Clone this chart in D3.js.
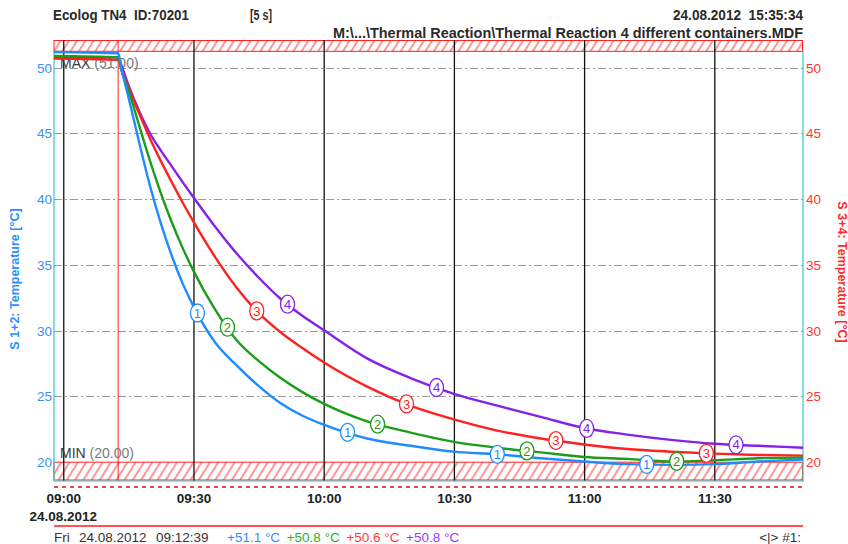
<!DOCTYPE html>
<html><head><meta charset="utf-8">
<script src="https://cdn.jsdelivr.net/npm/d3@7"></script>
<style>
body{margin:0;background:#fff}
svg{display:block}
text{font-family:"Liberation Sans",Arial,sans-serif}
</style>
</head><body>
<svg id="c" width="848" height="544"></svg>
<script>
// ---------------- data ----------------
const times = ["08:57:52","09:12:39","09:13:30","09:15:00","09:17:30","09:20:00","09:22:30","09:25:00","09:27:30","09:30:00",
  "09:35:00","09:40:00","09:45:00","09:50:00","09:55:00","10:00:00","10:10:00","10:20:00","10:30:00","10:40:00",
  "10:50:00","11:00:00","11:10:00","11:20:00","11:30:00","11:40:00","11:50:26"];
const s1Values = [51.2,51.1,49.8,47.8,44.3,41.0,38.15,35.7,33.6,31.85,29.1,27.35,25.8,24.5,23.55,22.85,21.8,21.25,20.8,20.6,20.3,20.05,19.85,19.8,19.85,20.05,20.2];
const s2Values = [50.9,50.8,49.7,48.3,45.6,42.9,40.45,38.25,36.3,34.55,31.6,29.25,27.7,26.42,25.35,24.45,23.1,22.25,21.55,21.1,20.75,20.4,20.25,20.05,20.15,20.3,20.35];
const s3Values = [50.7,50.6,49.8,48.5,46.5,44.6,42.9,41.3,39.75,38.3,35.6,33.25,31.35,29.9,28.7,27.6,25.75,24.3,23.25,22.4,21.8,21.35,21.0,20.8,20.65,20.55,20.5];
const s4Values = [50.8,50.8,50.1,48.7,46.7,45.0,43.7,42.5,41.3,40.15,37.9,35.85,34.05,32.45,31.15,30.05,27.9,26.4,25.2,24.3,23.45,22.6,22.1,21.7,21.4,21.25,21.1];
const seriesLabels = ["1","2","3","4"];
const markerTimes1 = ["09:30:55","10:05:30","10:40:00","11:14:25"];
const markerTimes2 = ["09:37:50","10:12:25","10:46:50","11:21:20"];
const markerTimes3 = ["09:44:35","10:19:05","10:53:30","11:28:10"];
const markerTimes4 = ["09:51:40","10:26:00","11:00:35","11:35:00"];
const yTicks = [20,25,30,35,40,45,50];
const xTicks = ["09:00:00","09:30:00","10:00:00","10:30:00","11:00:00","11:30:00"];
const xDomain = ["08:57:52","11:50:26"];
const yDomain = [18.57, 52.11];
const maxLimit = 51.0, minLimit = 20.0, maxBandEdge = 51.25;
const cursorTime = "09:12:39";
const cursorDay = "Fri", cursorDate = "24.08.2012";
const cursorValues = ["+51.1 °C","+50.8 °C","+50.6 °C","+50.8 °C"];
const headerLeft = "Ecolog TN4  ID:70201", headerInterval = "[5 s]";
const headerStamp = "24.08.2012  15:35:34";
const headerFile = "M:\\...\\Thermal Reaction\\Thermal Reaction 4 different containers.MDF";
const leftTitle = "S 1+2: Temperature [°C]", rightTitle = "S 3+4: Temperature [°C]";
const axisDate = "24.08.2012";

// ---------------- styles ----------------
const colors = ["#1e8cff","#1a9e1a","#ff2020","#8422ea"];
const statusColors = ["#2b8fff","#2bb02b","#ff3b3b","#9a3cff"];
const L = 54, R = 803, TOP = 40, BOT = 481;

const svg = d3.select("#c");
const parse = d3.timeParse("%d.%m.%Y %H:%M:%S");
const T = s => parse("24.08.2012 " + s);

const x = d3.scaleTime().domain(xDomain.map(T)).range([L, R]);
const y = d3.scaleLinear().domain(yDomain).range([BOT, TOP]);

svg.append("rect").attr("width",848).attr("height",544).attr("fill","#fff");

// hatch pattern
const defs = svg.append("defs");
const pat = defs.append("pattern").attr("id","hatch").attr("patternUnits","userSpaceOnUse")
  .attr("width",7).attr("height",20).attr("patternTransform","rotate(32)");
pat.append("rect").attr("width",7).attr("height",20).attr("fill","#fff");
pat.append("line").attr("x1",3).attr("x2",3).attr("y1",0).attr("y2",20).attr("stroke","#ff3030").attr("stroke-width",1);

// bands
svg.append("rect").attr("x",L).attr("y",y(yDomain[1])+0.5).attr("width",R-L-0.5)
  .attr("height",y(maxBandEdge)-y(yDomain[1])-0.5).attr("fill","url(#hatch)").attr("stroke","#ff2020").attr("stroke-width",1);
svg.append("rect").attr("x",L).attr("y",y(minLimit)).attr("width",R-L-0.5)
  .attr("height",y(yDomain[0])-y(minLimit)-1).attr("fill","url(#hatch)").attr("stroke","#ff2020").attr("stroke-width",1);

// horizontal grid
svg.append("g").selectAll("line").data(yTicks.filter(v=>v>minLimit)).join("line")
  .attr("x1",L).attr("x2",R).attr("y1",d=>Math.round(y(d))+0.5).attr("y2",d=>Math.round(y(d))+0.5)
  .attr("stroke","#9a9a9a").attr("stroke-width",1).attr("stroke-dasharray","8,3,2,3");

// x axis with vertical lines
const xAxis = d3.axisBottom(x).tickValues(xTicks.map(T)).tickFormat(d3.timeFormat("%H:%M"))
  .tickSize(-(BOT-TOP)).tickPadding(12);
const gx = svg.append("g").attr("transform",`translate(0,${BOT})`).call(xAxis);
gx.select(".domain").remove();
gx.selectAll(".tick line").attr("stroke","#111").attr("stroke-width",1.3);
gx.selectAll(".tick text").attr("fill","#222").attr("font-size","13.5px").attr("font-weight","bold")
  .attr("font-family","Liberation Sans, Arial, sans-serif");

// cursor line
svg.append("line").attr("x1",x(T(cursorTime))).attr("x2",x(T(cursorTime))).attr("y1",TOP).attr("y2",BOT)
  .attr("stroke","#ff2020").attr("stroke-width",1);

// left axis
const gl = svg.append("g").attr("transform",`translate(${L},0)`)
  .call(d3.axisLeft(y).tickValues(yTicks).tickSize(0).tickPadding(2));
gl.select(".domain").remove();
gl.selectAll("text").attr("fill","#3d8ef5").attr("font-size","13.5px").attr("font-family","Liberation Sans, Arial, sans-serif");
// right axis
const gr = svg.append("g").attr("transform",`translate(${R},0)`)
  .call(d3.axisRight(y).tickValues(yTicks).tickSize(0).tickPadding(3));
gr.select(".domain").remove();
gr.selectAll("text").attr("fill","#ff3535").attr("font-size","13.5px").attr("font-family","Liberation Sans, Arial, sans-serif");

// frame (cyan)
const cyan = "#33c6c6";
svg.append("line").attr("x1",L).attr("x2",L).attr("y1",y(maxBandEdge)).attr("y2",BOT).attr("stroke",cyan).attr("stroke-width",1.2);
svg.append("line").attr("x1",R).attr("x2",R).attr("y1",y(maxBandEdge)).attr("y2",BOT+1).attr("stroke",cyan).attr("stroke-width",1.2);
svg.append("line").attr("x1",L).attr("x2",R).attr("y1",BOT).attr("y2",BOT).attr("stroke",cyan).attr("stroke-width",1.2);

// MAX / MIN labels
const maxT = svg.append("text").attr("x",L+6).attr("y",y(maxLimit)+13).attr("font-size","14px");
maxT.append("tspan").attr("fill","#3a3a3a").text("MAX");
maxT.append("tspan").attr("fill","#7a7a7a").text(" (" + maxLimit.toFixed(2) + ")");
const minT = svg.append("text").attr("x",L+6).attr("y",y(minLimit)-4).attr("font-size","14px");
minT.append("tspan").attr("fill","#3a3a3a").text("MIN");
minT.append("tspan").attr("fill","#7a7a7a").text(" (" + minLimit.toFixed(2) + ")");

// axis titles
svg.append("text").attr("transform","translate(15,279) rotate(-90)").attr("text-anchor","middle").attr("dy","0.35em")
  .attr("fill","#2b8fff").attr("font-weight","bold").attr("font-size","12.5px").text(leftTitle);
svg.append("text").attr("transform","translate(842,272) rotate(90)").attr("text-anchor","middle").attr("dy","0.35em")
  .attr("fill","#ff2a2a").attr("font-weight","bold").attr("font-size","12.5px").text(rightTitle);

// series
const seriesValues = [s1Values, s2Values, s3Values, s4Values];
const markerTimes = [markerTimes1, markerTimes2, markerTimes3, markerTimes4];
const tDates = times.map(T);
const line = d3.line().x((d,i)=>x(tDates[i])).y(d=>y(d)).curve(d3.curveMonotoneX);
const gS = svg.append("g");
[3,2,1,0].forEach(k=>{
  gS.append("path").attr("d", line(seriesValues[k])).attr("fill","none")
    .attr("stroke",colors[k]).attr("stroke-width",2.4).attr("stroke-linejoin","round");
});
const bis = d3.bisector(d=>d).right;
function valueAt(vals, t){
  const i = Math.min(Math.max(bis(tDates,t),1), tDates.length-1);
  const t0=tDates[i-1], t1=tDates[i];
  const f=(t-t0)/(t1-t0);
  return vals[i-1] + f*(vals[i]-vals[i-1]);
}
[0,1,2,3].forEach(k=>{
  markerTimes[k].forEach(ts=>{
    const t=T(ts), cx=x(t), cy=y(valueAt(seriesValues[k],t));
    const g=svg.append("g").attr("transform",`translate(${cx},${cy})`);
    g.append("ellipse").attr("rx",7).attr("ry",9).attr("fill","#fff").attr("stroke",colors[k]).attr("stroke-width",1.3);
    g.append("text").attr("text-anchor","middle").attr("dy","0.36em").attr("font-size","13px")
      .attr("fill",colors[k]).text(seriesLabels[k]);
  });
});

// header
function hText(str, xx, yy, anchor, len){
  svg.append("text").attr("x",xx).attr("y",yy).attr("text-anchor",anchor)
    .attr("font-size","14.5px").attr("font-weight","bold").attr("fill","#2a2a2a")
    .attr("textLength",len).attr("lengthAdjust","spacingAndGlyphs")
    .style("white-space","pre").text(str);
}
hText(headerLeft, 53, 20, "start", 136);
hText(headerInterval, 250, 20, "start", 22);
hText(headerStamp, 803, 20, "end", 130);
hText(headerFile, 803, 38, "end", 470);

// axis date under first tick
svg.append("text").attr("x",x(T(xTicks[0]))).attr("y",521).attr("text-anchor","middle").attr("font-weight","bold")
  .attr("font-size","13.5px").attr("fill","#222").text(axisDate);

// red dashed / solid separators
svg.append("line").attr("x1",L).attr("x2",R).attr("y1",487).attr("y2",487).attr("stroke","#d01010").attr("stroke-width",1.3).attr("stroke-dasharray","4,4");
svg.append("line").attr("x1",L).attr("x2",R).attr("y1",526).attr("y2",526).attr("stroke","#ff1a1a").attr("stroke-width",1.3);

// status line
svg.append("text").attr("x",54).attr("y",542).attr("font-size","13.5px").attr("fill","#333").text(cursorDay);
svg.append("text").attr("x",79).attr("y",542).attr("font-size","13.5px").attr("fill","#333").text(cursorDate);
svg.append("text").attr("x",156).attr("y",542).attr("font-size","13.5px").attr("fill","#333").text(cursorTime);
cursorValues.forEach((v,k)=>{
  svg.append("text").attr("x",227+k*59.7).attr("y",542).attr("font-size","13.5px").attr("fill",statusColors[k]).text(v);
});
svg.append("text").attr("x",801).attr("y",542).attr("text-anchor","end").attr("font-size","13.5px").attr("fill","#333").text("<|> #1:");
</script>
</body></html>
